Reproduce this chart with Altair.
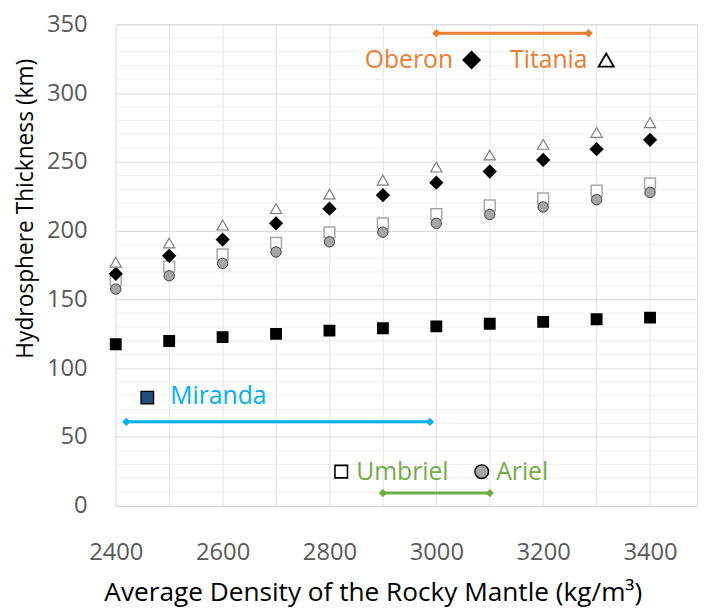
import altair as alt
import pandas as pd

density = [2400, 2500, 2600, 2700, 2800, 2900, 3000, 3100, 3200, 3300, 3400]
titania = [177, 191, 204, 216, 226.6, 236.7, 246.2, 255, 262.7, 271.4, 278.5]
oberon = [168.6, 181.7, 193.5, 205.3, 216, 225.8, 234.9, 243, 251.4, 259.2, 266]
umbriel = [164, 173.9, 182.8, 191, 198.7, 205.3, 212, 218.3, 223.5, 229, 234.4]
ariel = [157.5, 167.2, 176.2, 184.5, 191.9, 198.9, 205.3, 211.7, 217.2, 222.5, 227.8]
miranda = [117.4, 119.8, 122.6, 125, 127.3, 129, 130.4, 132.3, 133.7, 135.6, 136.8]

y_major = [0, 50, 100, 150, 200, 250, 300, 350]
y_minor = [v for v in range(10, 350, 10) if v % 50 != 0]
x_grid = [2400, 2500, 2600, 2700, 2800, 2900, 3000, 3100, 3200, 3300, 3400]

# annotation texts / positions (data units)
labels = pd.DataFrame({
    "x": [2866, 3138, 2502, 2850, 3112],
    "y": [324, 324, 80, 24.8, 24.8],
    "t": ["Oberon", "Titania", "Miranda", "Umbriel", "Ariel"],
    "c": ["#ED7D31", "#ED7D31", "#00B0F0", "#70AD47", "#70AD47"],
})
ranges = pd.DataFrame({
    "x": [3000, 2420, 2900],
    "x2": [3285, 2988, 3100],
    "y": [343.5, 61, 9.2],
    "c": ["#ED7D31", "#00B0F0", "#70AD47"],
})
ends = pd.DataFrame({
    "x": [3000, 3285, 2420, 2988, 2900, 3100],
    "y": [343.5, 343.5, 61, 61, 9.2, 9.2],
    "c": ["#ED7D31", "#ED7D31", "#00B0F0", "#00B0F0", "#70AD47", "#70AD47"],
})

FONT = "Open Sans"

def X():
    return alt.X("x:Q", scale=alt.Scale(domain=[2400, 3488], nice=False, zero=False),
                 axis=alt.Axis(values=x_grid, labelExpr="datum.value % 200 == 0 ? datum.label : ''",
                               format="d", title="Average Density of the Rocky Mantle (kg/m³)",
                               grid=True, gridColor="#e4e4e4", domain=False, ticks=False,
                               labelFlush=False, labelOverlap=False,
                               labelPadding=35, labelFontSize=24,
                               titleX=260, titleY=96, titleAlign="center", titleBaseline="alphabetic",
                               labelColor="#595959", titleFontSize=26.5, titleFontWeight="normal",
                               titleColor="#000000", labelFont=FONT, titleFont=FONT))

def Y():
    return alt.Y("y:Q", scale=alt.Scale(domain=[0, 350], nice=False),
                 axis=alt.Axis(values=y_major, title="Hydrosphere Thickness (km)",
                               grid=True, gridColor="#d9d9d9", domain=False, ticks=False,
                               labelFlush=False, labelOverlap=False,
                               labelPadding=29, titlePadding=9, labelFontSize=24,
                               titleY=186, titleAlign="center",
                               labelColor="#595959", titleFontSize=23, titleFontWeight="normal",
                               titleColor="#000000", labelFont=FONT, titleFont=FONT))

def series(vals):
    return pd.DataFrame({"x": density, "y": vals})

minor = alt.Chart(pd.DataFrame({"y": y_minor})).mark_rule(color="#f0f0f0", strokeWidth=1).encode(y=Y())

sq_open = alt.Chart(series(umbriel)).mark_point(shape="square", filled=True, fill="white",
                                                stroke="#a6a6a6", strokeWidth=1.5, size=120, opacity=1).encode(x=X(), y=Y())
circ = alt.Chart(series(ariel)).mark_point(shape="circle", filled=True, fill="#a6a6a6",
                                           stroke="#404040", strokeWidth=1, size=110, opacity=1).encode(x=X(), y=Y())
diam = alt.Chart(series(oberon)).mark_point(shape="diamond", filled=True, fill="black",
                                            stroke="black", size=135, opacity=1).encode(x=X(), y=Y())
tri = alt.Chart(series(titania)).mark_point(shape="triangle-up", filled=True, fill="white",
                                            stroke="#7f7f7f", strokeWidth=1.2, size=130, opacity=1).encode(x=X(), y=Y())
sq_black = alt.Chart(series(miranda)).mark_point(shape="square", filled=True, fill="black",
                                                 stroke="black", size=100, opacity=1).encode(x=X(), y=Y())

rng = alt.Chart(ranges).mark_rule(strokeWidth=3).encode(
    x=X(), x2="x2:Q", y=Y(), color=alt.Color("c:N", scale=None))
endp = alt.Chart(ends).mark_point(shape="diamond", filled=True, size=70, opacity=1).encode(
    x=X(), y=Y(), color=alt.Color("c:N", scale=None))

txt = alt.Chart(labels).mark_text(align="left", baseline="middle", font=FONT, fontSize=25).encode(
    x=X(), y=Y(), text="t:N", color=alt.Color("c:N", scale=None))

# legend-like markers next to the labels
m_ob = alt.Chart(pd.DataFrame({"x": [3066], "y": [324]})).mark_point(
    shape="diamond", filled=True, fill="black", stroke="black", size=270, opacity=1).encode(x=X(), y=Y())
m_ti = alt.Chart(pd.DataFrame({"x": [3318], "y": [324]})).mark_point(
    shape="triangle-up", filled=True, fill="white", stroke="black", strokeWidth=1.8, size=240, opacity=1).encode(x=X(), y=Y())
m_mi = alt.Chart(pd.DataFrame({"x": [2459], "y": [78.6]})).mark_point(
    shape="square", filled=True, fill="#1F4E79", stroke="black", strokeWidth=1.4, size=160, opacity=1).encode(x=X(), y=Y())
m_um = alt.Chart(pd.DataFrame({"x": [2822], "y": [24.8]})).mark_point(
    shape="square", filled=True, fill="white", stroke="black", strokeWidth=1.6, size=160, opacity=1).encode(x=X(), y=Y())
m_ar = alt.Chart(pd.DataFrame({"x": [3085], "y": [24.8]})).mark_point(
    shape="circle", filled=True, fill="#a6a6a6", stroke="black", strokeWidth=1.4, size=190, opacity=1).encode(x=X(), y=Y())

chart = alt.layer(minor, sq_black, sq_open, circ, diam, tri, rng, endp, txt,
                  m_ob, m_ti, m_mi, m_um, m_ar).properties(
    width=588, height=487,
    padding={"left": 109, "top": 13, "right": 4, "bottom": 106},
    autosize=alt.AutoSizeParams(type="none"),
).configure_view(stroke="#d9d9d9", strokeWidth=1.5).configure(background="white")

chart.save("out.html", embed_options={"renderer": "svg", "actions": False})
